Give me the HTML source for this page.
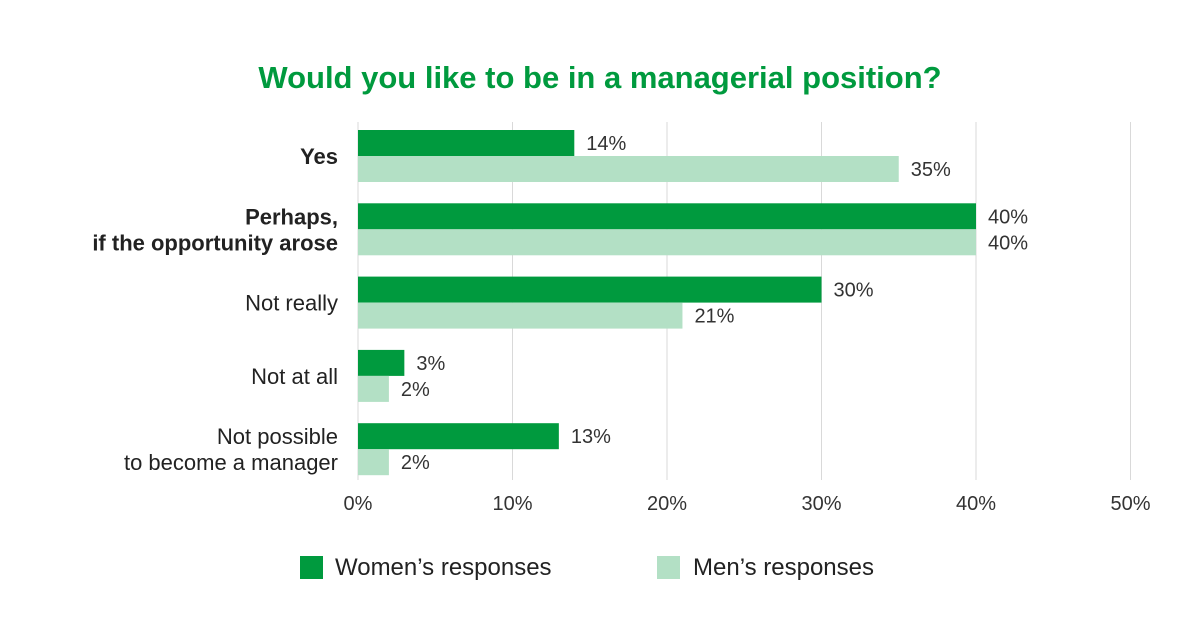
<!DOCTYPE html>
<html><head><meta charset="utf-8"><style>
body{margin:0;background:#fff;font-family:"Liberation Sans",sans-serif;}
svg text{font-family:"Liberation Sans",sans-serif;}
</style></head><body>
<svg id="chart" width="1201" height="628" xmlns="http://www.w3.org/2000/svg">
<rect width="1201" height="628" fill="#fff"/>
<text x="600" y="88" text-anchor="middle" font-size="31" font-weight="bold" fill="#009a3e">Would you like to be in a managerial position?</text>
<g id="grid"></g><g id="bars"></g><g id="labels"></g>
<g>
<rect x="300" y="556" width="23" height="23" fill="#009a3e"/>
<text x="335" y="575" font-size="24" fill="#222">Women’s responses</text>
<rect x="657" y="556" width="23" height="23" fill="#b3e0c5"/>
<text x="693" y="575" font-size="24" fill="#222">Men’s responses</text>
</g>
</svg>
<script>
const categories=[["Yes"],["Perhaps,","if the opportunity arose"],["Not really"],["Not at all"],["Not possible","to become a manager"]];
const boldCats=[true,true,false,false,false];
const women=[14,40,30,3,13];
const men=[35,40,21,2,2];
const ticks=[0,10,20,30,40,50];
const NS="http://www.w3.org/2000/svg";
const x=v=>358+v*15.45;
const gy=i=>130+i*73.3;
const BH=26;
function mk(tag,attrs,parent,text){const e=document.createElementNS(NS,tag);for(const k in attrs)e.setAttribute(k,attrs[k]);if(text!==undefined)e.textContent=text;document.getElementById(parent).appendChild(e);return e;}
ticks.forEach(t=>{
 if(t>0){const l=mk('line',{x1:x(t),x2:x(t),y1:122,y2:480,stroke:'#d9d9d9','stroke-width':1},'grid');
 
 }
 const tx=mk('text',{x:x(t),y:510,'text-anchor':'middle','font-size':20,fill:'#333'},'labels',t+'%');
 
 
});
const ax=mk('line',{x1:358,x2:358,y1:122,y2:480,stroke:'#d9d9d9','stroke-width':1},'grid');


categories.forEach((c,i)=>{
 const y0=gy(i);
 const bw=mk('rect',{x:358,y:y0,width:x(women[i])-358,height:BH,fill:'#009a3e'},'bars');
 
 
 const bm=mk('rect',{x:358,y:y0+BH,width:x(men[i])-358,height:BH,fill:'#b3e0c5'},'bars');
 
 
 const vw=mk('text',{x:x(women[i])+12,y:y0+20,'font-size':20,fill:'#333'},'labels',women[i]+'%');
 
 
 const vm=mk('text',{x:x(men[i])+12,y:y0+BH+20,'font-size':20,fill:'#333'},'labels',men[i]+'%');
 
 
 const n=c.length;
 c.forEach((line,j)=>{
  const ty=y0+BH+8+(j-(n-1)/2)*26;
  const t=mk('text',{x:338,y:ty,'text-anchor':'end','font-size':22,fill:'#222','font-weight':boldCats[i]?'bold':'normal'},'labels',line);
  
  
 });
});
</script>
</body></html>
